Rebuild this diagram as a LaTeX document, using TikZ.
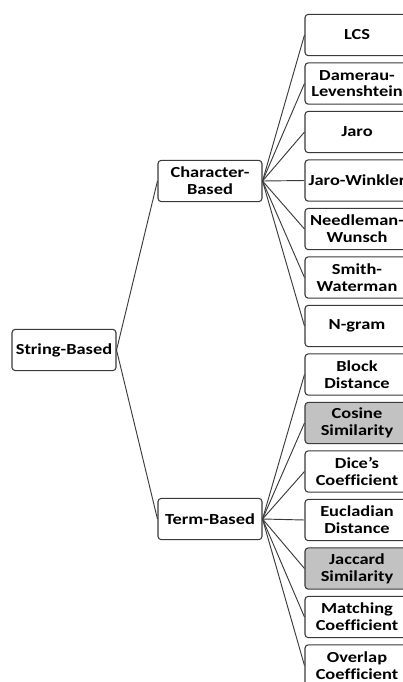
\documentclass[tikz,border=0pt]{standalone}
\usepackage{fontspec}
\setmainfont{Carlito}[FakeStretch=1.2, Ligatures=NoCommon]
\usepackage{xcolor}
\usepackage{tikz}
\usetikzlibrary{positioning}
\definecolor{Frame}{HTML}{3A3A3A}
\definecolor{Shade}{HTML}{C2C2C2}
\tikzset{
  box/.style={draw=Frame, line width=0.8pt, rounded corners=2.5pt, fill=white,
    minimum width=78pt, minimum height=31pt, inner sep=1pt, align=center,
    font=\bfseries\fontsize{11.5}{12.5}\selectfont},
  shaded/.style={box, fill=Shade},
  link/.style={draw=Frame, line width=0.7pt},
}

\begin{document}
\begin{tikzpicture}[x=0.75pt, y=-0.75pt]
  \clip (0,0) rectangle (403,682);
  \useasboundingbox (0,0) rectangle (403,682);

  % Root and the two families
  \node[box] (str) at (64,350) {String-Based};
  \node[box] (chr) at (210,181) {Character-\\Based};
  \node[box] (trm) at (210,519) {Term-Based};

  % Character-based measures
  \node[box] (lcs) at (357,35) {LCS};
  \node[box] (dam) at (357,83.5) {Damerau-\\Levenshtein};
  \node[box] (jaro) at (357,132) {Jaro};
  \node[box] (jw) at (357,180.5) {Jaro-Winkler};
  \node[box] (nw) at (357,229) {Needleman-\\Wunsch};
  \node[box] (sw) at (357,277.5) {Smith-\\Waterman};
  \node[box] (ngram) at (357,326) {N-gram};

  % Term-based measures
  \node[box] (block) at (357,374.5) {Block\\Distance};
  \node[shaded] (cos) at (357,423) {Cosine\\Similarity};
  \node[box] (dice) at (357,471.5) {Dice’s\\Coefficient};
  \node[box] (eucl) at (357,520) {Eucladian\\Distance};
  \node[shaded] (jac) at (357,568.5) {Jaccard\\Similarity};
  \node[box] (match) at (357,617) {Matching\\Coefficient};
  \node[box] (over) at (357,665.5) {Overlap\\Coefficient};

  % Connectors
  \draw[link] (str.east) -- (chr.west);
  \draw[link] (str.east) -- (trm.west);
  \foreach \leaf in {lcs, dam, jaro, jw, nw, sw, ngram}
    \draw[link] (chr.east) -- (\leaf.west);
  \foreach \leaf in {block, cos, dice, eucl, jac, match, over}
    \draw[link] (trm.east) -- (\leaf.west);
\end{tikzpicture}
\end{document}
